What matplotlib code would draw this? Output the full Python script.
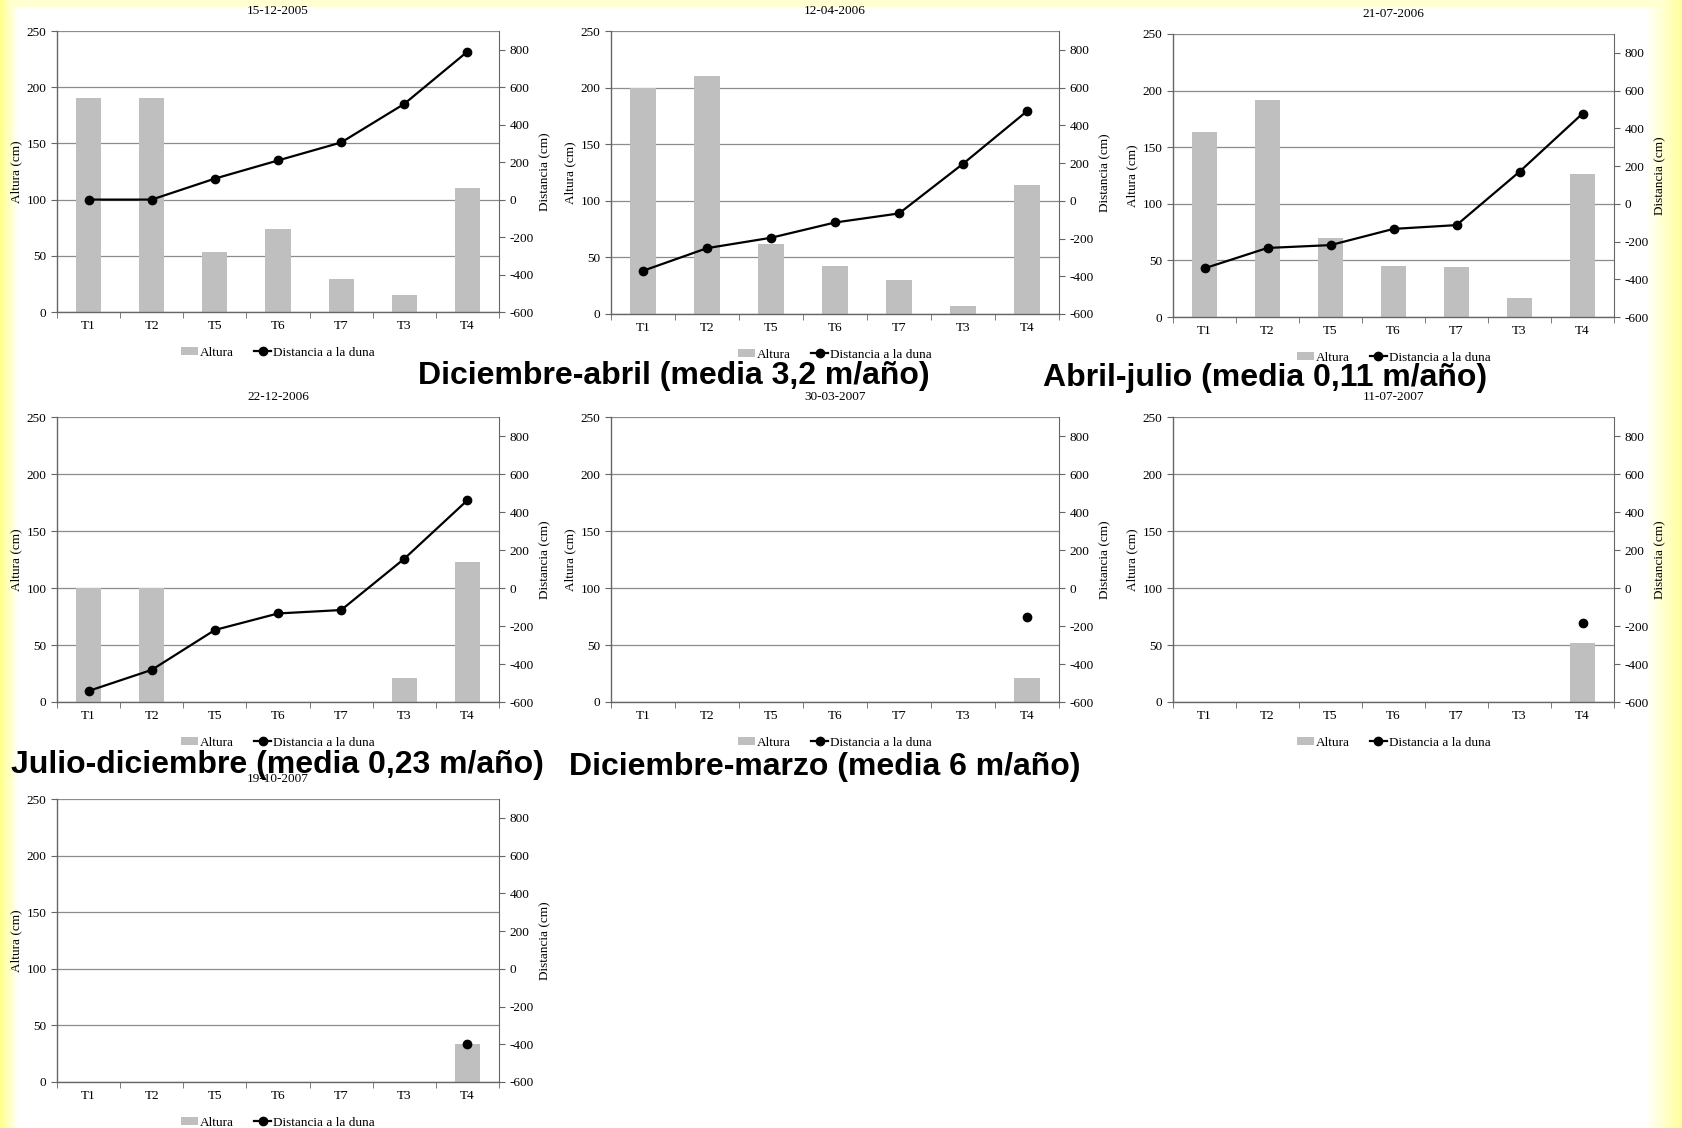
import matplotlib.pyplot as plt
from matplotlib.lines import Line2D
from matplotlib.patches import Patch
import numpy as np

plt.rcParams["axes.unicode_minus"] = False

W, H = 1682, 1128

categories = ["T1", "T2", "T5", "T6", "T7", "T3", "T4"]
fechas = ["15-12-2005", "12-04-2006", "21-07-2006", "22-12-2006",
          "30-03-2007", "11-07-2007", "19-10-2007"]

nan = np.nan
altura = [
    [190, 190, 53, 74, 29, 15, 110],
    [200, 210, 62, 42, 30, 7, 114],
    [163, 192, 70, 45, 44, 17, 126],
    [100, 100, 0, 0, 0, 21, 123],
    [0, 0, 0, 0, 0, 0, 21],
    [0, 0, 0, 0, 0, 0, 52],
    [0, 0, 0, 0, 0, 0, 34],
]
distancia = [
    [0, 0, 112, 209, 305, 511, 790],
    [-371, -251, -196, -115, -67, 196, 475],
    [-342, -234, -219, -133, -113, 170, 478],
    [-542, -431, -221, -134, -116, 154, 462],
    [nan, nan, nan, nan, nan, nan, -150],
    [nan, nan, nan, nan, nan, nan, -185],
    [nan, nan, nan, nan, nan, nan, -400],
]

periodos = [
    ("Diciembre-abril (media 3,2 m/año)", 418, 376),
    ("Abril-julio (media 0,11 m/año)", 1043, 378),
    ("Julio-diciembre (media 0,23 m/año)", 11, 765),
    ("Diciembre-marzo (media 6 m/año)", 569, 767),
]

# panel boxes in pixels: left, right, top, bottom
boxes = [
    (57, 499, 31, 312),
    (611, 1059, 31, 314),
    (1173, 1614, 34, 317),
    (57, 499, 417, 702),
    (611, 1059, 417, 702),
    (1173, 1614, 417, 702),
    (57, 499, 799, 1082),
]

serif = "Liberation Serif"
fs = 9.5

fig = plt.figure(figsize=(W / 100, H / 100), dpi=100)

# pale yellow frame around the slide
bg = np.ones((H, W, 3))
xs = np.arange(W)
ys = np.arange(H)
left = np.clip(1 - xs / 18.0, 0, 1)
right = np.clip((xs - 1645) / 37.0, 0, 1)
top = np.where(ys < 7, 1.0, 0.0)
amount = np.maximum(np.maximum(left[None, :] * 0.45, right[None, :] * 0.4),
                    top[:, None] * 0.18)
bg[:, :, 2] = 1 - amount
bgax = fig.add_axes([0, 0, 1, 1], zorder=-10)
bgax.imshow(bg, aspect="auto", interpolation="bilinear")
bgax.axis("off")

x = np.arange(len(categories))
for i, (l, r, t, b) in enumerate(boxes):
    ax = fig.add_axes([l / W, 1 - b / H, (r - l) / W, (b - t) / H])
    ax.bar(x, altura[i], width=0.4, color="#BFBFBF", zorder=2)
    ax.set_xlim(-0.5, 6.5)
    ax.set_ylim(0, 250)
    ax.set_yticks(range(0, 251, 50))
    ax.yaxis.grid(True, color="#8c8c8c", lw=0.9)
    ax.set_axisbelow(True)
    ax.set_xticks(x)
    ax.set_xticklabels(categories, family=serif, fontsize=fs)
    ax.set_xticks(np.arange(-0.5, 7, 1), minor=True)
    ax.tick_params(axis="x", which="major", length=0, pad=6)
    ax.tick_params(axis="x", which="minor", length=4, color="#666666")
    ax.tick_params(axis="y", length=4, color="#666666", labelsize=fs)
    for lab in ax.get_yticklabels():
        lab.set_family(serif)
    for s in ["top", "right"]:
        ax.spines[s].set_visible(False)
    for s in ["left", "bottom"]:
        ax.spines[s].set_color("#666666")
        ax.spines[s].set_linewidth(1.0)
    ax.set_ylabel("Altura (cm)", family=serif, fontsize=fs, labelpad=3)
    ax.set_title(fechas[i], family=serif, fontsize=fs, pad=12)

    ax2 = ax.twinx()
    ax2.plot(x, distancia[i], color="black", lw=1.6, marker="o",
             markersize=6, zorder=3)
    ax2.set_ylim(-600, 900)
    ax2.set_yticks(range(-600, 801, 200))
    ax2.tick_params(axis="y", length=4, color="#666666", labelsize=fs)
    for lab in ax2.get_yticklabels():
        lab.set_family(serif)
    for s in ["top", "left", "bottom"]:
        ax2.spines[s].set_visible(False)
    ax2.spines["right"].set_color("#666666")
    ax2.set_ylabel("Distancia (cm)", family=serif, fontsize=fs, labelpad=4)

    handles = [Patch(facecolor="#BFBFBF", edgecolor="none"),
               Line2D([], [], color="black", lw=1.6, marker="o", markersize=6)]
    ax.legend(handles, ["Altura", "Distancia a la duna"], loc="upper center",
              bbox_to_anchor=(0.5, -0.09), ncol=2, frameon=False,
              prop={"family": serif, "size": fs}, handlelength=1.3,
              handletextpad=0.15, columnspacing=1.5, handleheight=0.6,
              borderpad=0.2)

for txt, px, py in periodos:
    fig.text(px / W, 1 - py / H, txt, family="Liberation Sans",
             weight="bold", fontsize=23, va="center", ha="left", zorder=20)

fig.savefig("out.png", dpi=100)
